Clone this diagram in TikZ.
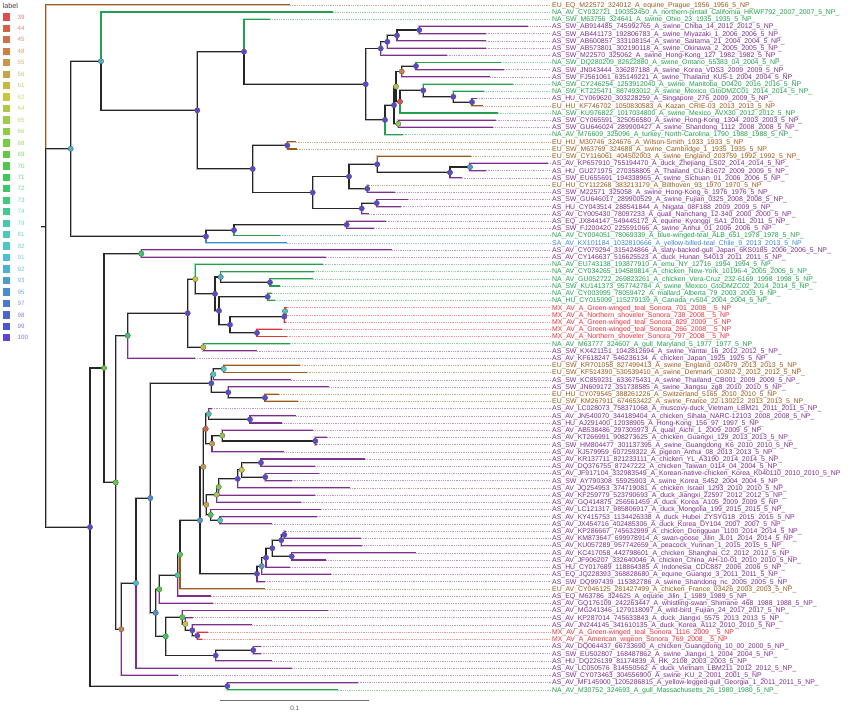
\documentclass[tikz,border=0pt]{standalone}
\usepackage{fontspec}
\setmainfont{Liberation Sans}
\definecolor{cEU}{HTML}{9C5A1A}
\definecolor{cNA}{HTML}{22A04E}
\definecolor{cAS}{HTML}{7E2F8E}
\definecolor{cMX}{HTML}{E5323C}
\definecolor{cSA}{HTML}{3A8AD0}
\definecolor{b39}{HTML}{D95050}
\definecolor{b44}{HTML}{D46048}
\definecolor{b45}{HTML}{D0704A}
\definecolor{b48}{HTML}{CC8048}
\definecolor{b55}{HTML}{C89850}
\definecolor{b56}{HTML}{C8A448}
\definecolor{b61}{HTML}{C8B840}
\definecolor{b62}{HTML}{C8C840}
\definecolor{b64}{HTML}{B0C848}
\definecolor{b65}{HTML}{A0CC48}
\definecolor{b66}{HTML}{8CCC48}
\definecolor{b68}{HTML}{78CC44}
\definecolor{b69}{HTML}{64C844}
\definecolor{b70}{HTML}{50C850}
\definecolor{b71}{HTML}{3CC858}
\definecolor{b72}{HTML}{3CC868}
\definecolor{b73}{HTML}{40C87C}
\definecolor{b74}{HTML}{44C890}
\definecolor{b79}{HTML}{48C8A8}
\definecolor{b81}{HTML}{4CC8BC}
\definecolor{b82}{HTML}{4CC8C8}
\definecolor{b91}{HTML}{4CC0D0}
\definecolor{b92}{HTML}{4CB0D0}
\definecolor{b93}{HTML}{4C9CD0}
\definecolor{b95}{HTML}{4C8CD0}
\definecolor{b97}{HTML}{4C78D0}
\definecolor{b98}{HTML}{4C64D0}
\definecolor{b99}{HTML}{4C54D0}
\definecolor{b100}{HTML}{5A48D0}
\tikzset{
  tipedge/.style={draw=#1, line width=1.1pt, preaction={draw=#1!35, line width=1.9pt}},
  iedge/.style={draw=black!85, line width=1.1pt, preaction={draw=black!30, line width=1.9pt}},
  leader/.style={draw=#1!50, line width=0.45pt, dash pattern=on 0.9pt off 0.9pt},
  lab/.style={anchor=base west, inner sep=0pt, yshift=-2.4pt, text=#1, font=\fontsize{6.9}{8}\selectfont},
  bs/.style={circle, fill=#1, draw=black!65, line width=0.3pt, inner sep=0pt, minimum size=5.4pt},
  legsq/.style={rectangle, fill=#1, draw=none, inner sep=0pt, minimum size=7.3pt},
  legtx/.style={anchor=west, inner sep=0pt, text=#1!75, font=\fontsize{6.2}{7}\selectfont},
}
\newcommand{\tipleaf}[5]{%
  \coordinate (t#1) at (#3,{4.8+(#1-1)*7.21});
  \coordinate (d#1) at (550.5,{4.8+(#1-1)*7.21});
  \draw[tipedge=c#4] (#2) |- (t#1);
  \draw[leader=c#4] (t#1) -- (d#1);
  \node[lab=c#4] (n#1) at (552,{4.8+(#1-1)*7.21}) {\detokenize{#5}};
}
\begin{document}
\begin{tikzpicture}[x=1pt,y=-1pt]
\fill[white] (0,0) rectangle (850,716);
\useasboundingbox (0,0) rectangle (850,716);
% internal node coordinates
\coordinate (root) at (45.7,226.89);
\coordinate (rst) at (40.5,226.89);
\coordinate (nA) at (70.7,148.795);
\coordinate (nA1) at (101,61.17);
\coordinate (nA1b) at (197.3,110.325);
\coordinate (nC) at (244,51.71);
\coordinate (nD) at (365.7,84.195);
\coordinate (nE) at (380.7,48.51);
\coordinate (nE1) at (387.3,41.75);
\coordinate (nE2) at (397,35.44);
\coordinate (nE3) at (419.3,30.035);
\coordinate (nF) at (385,119.88);
\coordinate (nG) at (394,105.18);
\coordinate (nG1) at (396,86.59);
\coordinate (nG1a) at (401.7,71.49);
\coordinate (nGaa) at (416,66.085);
\coordinate (nG1b) at (400,101.685);
\coordinate (nGb1) at (423.3,90.42);
\coordinate (nGb2) at (453.3,96.73);
\coordinate (nGb3) at (472,102.135);
\coordinate (nG2) at (398.3,123.765);
\coordinate (nH) at (252.7,168.94);
\coordinate (nH1) at (287.3,145.395);
\coordinate (nI) at (312.7,192.485);
\coordinate (nI1) at (349,176.49);
\coordinate (nI1a) at (377.3,164.32);
\coordinate (nI1b) at (450,172.43);
\coordinate (nI1c) at (470,167.025);
\coordinate (nI2) at (367.3,188.655);
\coordinate (nI3) at (361.7,208.48);
\coordinate (nI3a) at (376.7,203.075);
\coordinate (nA2) at (206,236.42);
\coordinate (nA2a) at (234,230.11);
\coordinate (nA2b) at (346.7,224.705);
\coordinate (nB) at (90,527.07);
\coordinate (nB2) at (227.3,686.145);
\coordinate (nK) at (104,367.99);
\coordinate (nK1) at (141.3,253.545);
\coordinate (nL) at (115.7,482.43);
\coordinate (nM) at (127.7,335.645);
\coordinate (nN) at (187.7,313.2);
\coordinate (nO) at (195.3,279.12);
\coordinate (nP) at (215,293.875);
\coordinate (nQ) at (220.7,276.98);
\coordinate (nQ1) at (270,282.385);
\coordinate (nR) at (219,310.77);
\coordinate (nR1) at (267.7,296.805);
\coordinate (nS) at (230,324.74);
\coordinate (nS1) at (284.3,316.63);
\coordinate (nS1a) at (285,311.225);
\coordinate (nS2) at (257,332.855);
\coordinate (nN2) at (203.3,347.275);
\coordinate (nT) at (121.3,629.21);
\coordinate (nU) at (136,583.09);
\coordinate (nV) at (150.3,498.065);
\coordinate (nW) at (211.3,383.325);
\coordinate (nW1) at (213.3,374.31);
\coordinate (nW1a) at (223.7,368.905);
\coordinate (nW2) at (228.3,392.34);
\coordinate (nW2a) at (265,397.745);
\coordinate (nX) at (155.7,612.805);
\coordinate (nY) at (159.3,589.26);
\coordinate (nY1) at (177.7,575.29);
\coordinate (nZ) at (180,554.56);
\coordinate (nAA) at (200,520.315);
\coordinate (nAB) at (203.3,466.805);
\coordinate (nAC) at (205.7,428.84);
\coordinate (nAC1) at (208.7,413.97);
\coordinate (nAC1a) at (250,419.375);
\coordinate (nAD) at (212,443.71);
\coordinate (nAD1) at (222.3,435.6);
\coordinate (nAD1a) at (315.3,441.005);
\coordinate (nAE) at (206.3,504.77);
\coordinate (nAF) at (216.7,494.63);
\coordinate (nAF1) at (218.7,486.97);
\coordinate (nAF2) at (237.7,478.86);
\coordinate (nAF3) at (241.7,469.845);
\coordinate (nAF3a) at (261,462.635);
\coordinate (nAF3b) at (265.3,477.055);
\coordinate (nAG) at (210.7,514.91);
\coordinate (nAG1) at (220,520.315);
\coordinate (nAH) at (257,573.825);
\coordinate (nAH1) at (261.7,566.05);
\coordinate (nAH2) at (266,557.715);
\coordinate (nAH3) at (272.3,548.25);
\coordinate (nAH4) at (281.3,540.14);
\coordinate (nAH5) at (284.3,534.735);
\coordinate (nAH6) at (291.7,556.365);
\coordinate (nX2) at (165.7,636.35);
\coordinate (nX2a) at (182.3,617.2);
\coordinate (nX2b) at (185.3,623.96);
\coordinate (nX2c) at (192.3,630.27);
\coordinate (nX2d) at (197.3,635.675);
\coordinate (nX3) at (215.7,655.5);
\coordinate (nX3a) at (253.3,650.095);
% tips
\tipleaf{1}{root}{290}{EU}{EU_EQ_M22572_324012_A_equine_Prague_1956_1956_5_NP_}
\tipleaf{2}{nA1}{333}{NA}{NA_AV_CY032721_190352450_A_northern-pintail_California_HKWF792_2007_2007_5_NP_}
\tipleaf{3}{nC}{270}{NA}{NA_SW_M63756_324641_A_swine_Ohio_23_1935_1935_5_NP_}
\tipleaf{4}{nE3}{528.3}{AS}{AS_SW_AB914485_745992765_A_swine_Chiba_14_2012_2012_5_NP_}
\tipleaf{5}{nE3}{485.7}{AS}{AS_SW_AB441173_192806783_A_swine_Miyazaki_1_2006_2006_5_NP_}
\tipleaf{6}{nE2}{485.7}{AS}{AS_SW_AB600857_333108154_A_swine_Saitama_21_2004_2004_5_NP_}
\tipleaf{7}{nE1}{485.7}{AS}{AS_SW_AB573801_302190118_A_swine_Okinawa_2_2005_2005_5_NP_}
\tipleaf{8}{nE}{446.7}{AS}{AS_SW_M22570_325062_A_swine_Hong-Kong_127_1982_1982_5_NP_}
\tipleaf{9}{nGaa}{501}{NA}{NA_SW_DQ280209_82622880_A_swine_Ontario_55383_04_2004_5_NP_}
\tipleaf{10}{nGaa}{504}{AS}{AS_SW_JN043444_336287188_A_swine_Korea_VDS3_2009_2009_5_NP_}
\tipleaf{11}{nG1a}{490}{AS}{AS_SW_FJ561061_635149221_A_swine_Thailand_KU5-1_2004_2004_5_NP_}
\tipleaf{12}{nGb1}{513.3}{NA}{NA_SW_CY246254_1253912040_A_swine_Manitoba_D0420_2016_2016_5_NP}
\tipleaf{13}{nGb2}{484.3}{NA}{NA_SW_KT225471_887493012_A_swine_Mexico_GtoDMZC01_2014_2014_5_NP_}
\tipleaf{14}{nGb3}{477}{AS}{AS_HU_CY069620_303228259_A_Singapore_276_2009_2009_5_NP_}
\tipleaf{15}{nGb3}{483.3}{EU}{EU_HU_KF746702_1050830583_A_Kazan_CRIE-03_2013_2013_5_NP}
\tipleaf{16}{nG1b}{497.7}{NA}{NA_SW_KU976822_1017034800_A_swine_Mexico_AVX30_2012_2012_5_NP_}
\tipleaf{17}{nG2}{495.7}{AS}{AS_SW_CY065591_325056580_A_swine_Hong-Kong_1304_2003_2003_5_NP_}
\tipleaf{18}{nG2}{493.3}{AS}{AS_SW_GU646024_289900427_A_swine_Shandong_1112_2008_2008_5_NP_}
\tipleaf{19}{nF}{402.7}{NA}{NA_AV_M76609_325096_A_turkey_North-Carolina_1790_1988_1988_5_NP_}
\tipleaf{20}{nH1}{295.7}{EU}{EU_HU_M30746_324676_A_Wilson-Smith_1933_1933_5_NP}
\tipleaf{21}{nH1}{296.7}{EU}{EU_SW_M63769_324688_A_swine_Cambridge_1_1935_1935_5_NP}
\tipleaf{22}{nI1a}{471}{EU}{EU_SW_CY116061_404502003_A_swine_England_203759_1992_1992_5_NP_}
\tipleaf{23}{nI1c}{548}{AS}{AS_AV_KP657910_755194470_A_duck_Zhejiang_LS02_2014_2014_5_NP_}
\tipleaf{24}{nI1c}{485.7}{AS}{AS_HU_GU271975_270358805_A_Thailand_CU-B1672_2009_2009_5_NP_}
\tipleaf{25}{nI1b}{461.7}{AS}{AS_SW_EU655691_194338965_A_swine_Sichuan_01_2006_2006_5_NP_}
\tipleaf{26}{nI2}{369.3}{EU}{EU_HU_CY112268_383213179_A_Bilthoven_93_1970_1970_5_NP}
\tipleaf{27}{nI2}{395}{AS}{AS_SW_M22571_325058_A_swine_Hong-Kong_6_1976_1976_5_NP_}
\tipleaf{28}{nI3a}{408.3}{AS}{AS_SW_GU646017_289900529_A_swine_Fujian_0325_2008_2008_5_NP_}
\tipleaf{29}{nI3a}{400.7}{AS}{AS_HU_CY043514_288541844_A_Niigata_08F188_2009_2009_5_NP_}
\tipleaf{30}{nI3}{369}{AS}{AS_AV_CY005430_78097233_A_quail_Nanchang_12-340_2000_2000_5_NP_}
\tipleaf{31}{nA2b}{385.7}{AS}{AS_EQ_JX844147_549445172_A_equine_Kyonggi_SA1_2011_2011_5_NP_}
\tipleaf{32}{nA2b}{374}{AS}{AS_SW_FJ200420_225591066_A_swine_Anhui_01_2006_2006_5_NP}
\tipleaf{33}{nA2a}{280}{NA}{NA_AV_CY004051_78069339_A_blue-winged-teal_ALB_651_1978_1978_5_NP_}
\tipleaf{34}{nA2}{286.7}{SA}{SA_AV_KX101184_1032810666_A_yellow-billed-teal_Chile_9_2013_2013_5_NP}
\tipleaf{35}{nK1}{392.3}{AS}{AS_AV_CY079294_315424866_A_slaty-backed-gull_Japan_6KS0185_2006_2006_5_NP_}
\tipleaf{36}{nK1}{326}{AS}{AS_AV_CY146637_516625523_A_duck_Hunan_S4013_2011_2011_5_NP_}
\tipleaf{37}{nO}{322.7}{NA}{NA_AV_EU743138_193877910_A_emu_NY_12716_1994_1994_5_NP_}
\tipleaf{38}{nQ}{314.3}{NA}{NA_AV_CY034265_194589814_A_chicken_New-York_10196-4_2005_2005_5_NP_}
\tipleaf{39}{nQ1}{313.3}{NA}{NA_AV_GU052722_269823261_A_chicken_Vera-Cruz_232-6169_1998_1998_5_NP_}
\tipleaf{40}{nQ1}{280}{NA}{NA_SW_KU141373_957742784_A_swine_Mexico_GtoDMZC02_2014_2014_5_NP_}
\tipleaf{41}{nR1}{272.3}{NA}{NA_AV_CY003995_78059472_A_mallard_Alberta_79_2003_2003_5_NP_}
\tipleaf{42}{nR1}{275}{NA}{NA_HU_CY015009_115279139_A_Canada_rv504_2004_2004_5_NP_}
\tipleaf{43}{nS1a}{286.5}{MX}{MX_AV_A_Green-winged_teal_Sonora_701_2008__5_NP}
\tipleaf{44}{nS1a}{286.5}{MX}{MX_AV_A_Northern_shoveler_Sonora_738_2008__5_NP}
\tipleaf{45}{nS1}{286}{MX}{MX_AV_A_Green-winged_teal_Sonora_829_2009__5_NP}
\tipleaf{46}{nS2}{281.7}{MX}{MX_AV_A_Green-winged_teal_Sonora_266_2008__5_NP}
\tipleaf{47}{nS2}{286.7}{MX}{MX_AV_A_Northern_shoveler_Sonora_797_2008__5_NP}
\tipleaf{48}{nN2}{290}{NA}{NA_AV_M63777_324607_A_gull_Maryland_5_1977_1977_5_NP_}
\tipleaf{49}{nN2}{256.7}{AS}{AS_SW_KX421151_1042812694_A_swine_Yantai_16_2012_2012_5_NP_}
\tipleaf{50}{nM}{195}{AS}{AS_AV_KF618247_546236134_A_chicken_Japan_1925_1925_5_NP_}
\tipleaf{51}{nW1a}{300}{EU}{EU_SW_KR701058_827499413_A_swine_England_024079_2013_2013_5_NP_}
\tipleaf{52}{nW1a}{306.7}{EU}{EU_SW_KF514390_530539410_A_swine_Denmark_10302-2_2012_2012_5_NP_}
\tipleaf{53}{nW1}{290.7}{AS}{AS_SW_KC859231_633675431_A_swine_Thailand_CB001_2009_2009_5_NP_}
\tipleaf{54}{nW2}{329.3}{AS}{AS_SW_JN609172_351738585_A_swine_Jiangsu_zg8_2010_2010_5_NP_}
\tipleaf{55}{nW2a}{279}{EU}{EU_HU_CY079545_388261226_A_Switzerland_5165_2010_2010_5_NP_}
\tipleaf{56}{nW2a}{297.7}{EU}{EU_SW_KM267911_674653422_A_swine_France_22-130212_2013_2013_5_NP_}
\tipleaf{57}{nAC1}{212}{AS}{AS_AV_LC028073_758371068_A_muscovy-duck_Vietnam_LBM21_2011_2011_5_NP_}
\tipleaf{58}{nAC1a}{296}{AS}{AS_AV_JN540070_344189404_A_chicken_Sihala_NARC-12103_2008_2008_5_NP_}
\tipleaf{59}{nAC1a}{282.3}{AS}{AS_HU_AJ291400_12038905_A_Hong-Kong_156_97_1997_5_NP_}
\tipleaf{60}{nAD1}{313.3}{AS}{AS_AV_AB538486_297305973_A_quail_Aichi_1_2009_2009_5_NP_}
\tipleaf{61}{nAD1a}{326.7}{AS}{AS_AV_KT266991_908273625_A_chicken_Guangxi_129_2013_2013_5_NP_}
\tipleaf{62}{nAD1a}{316.7}{AS}{AS_SW_HM804477_301137395_A_swine_Guangdong_K6_2010_2010_5_NP_}
\tipleaf{63}{nAD}{284.3}{AS}{AS_AV_KJ579959_607259322_A_pigeon_Anhui_08_2013_2013_5_NP_}
\tipleaf{64}{nAF3a}{365}{AS}{AS_AV_KR137711_821233111_A_chicken_YL_A3190_2014_2014_5_NP_}
\tipleaf{65}{nAF3a}{315.3}{AS}{AS_AV_DQ376755_87247222_A_chicken_Taiwan_0114_04_2004_5_NP_}
\tipleaf{66}{nAF3b}{319.3}{AS}{AS_AV_JF917104_332983549_A_Korean-native-chicken_Korea_K040110_2010_2010_5_NP}
\tipleaf{67}{nAF3b}{291.7}{AS}{AS_SW_AY790308_55925903_A_swine_Korea_S452_2004_2004_5_NP_}
\tipleaf{68}{nAF2}{350}{AS}{AS_AV_JQ254953_374719081_A_chicken_Israel_1293_2010_2010_5_NP_}
\tipleaf{69}{nAF1}{315.3}{AS}{AS_AV_KF259779_523790693_A_duck_Jiangxi_22597_2012_2012_5_NP_}
\tipleaf{70}{nAF}{300.7}{AS}{AS_AV_GQ414875_256561459_A_duck_Korea_A105_2009_2009_5_NP_}
\tipleaf{71}{nAG}{321}{AS}{AS_AV_LC121317_985806917_A_duck_Mongolia_199_2015_2015_5_NP_}
\tipleaf{72}{nAG1}{316.7}{AS}{AS_AV_KY415753_1134426338_A_duck_Hubei_ZYSYG18_2015_2015_5_NP}
\tipleaf{73}{nAG1}{271.7}{AS}{AS_AV_JX454716_402485306_A_duck_Korea_DY104_2007_2007_5_NP_}
\tipleaf{74}{nAH5}{286}{AS}{AS_AV_KP286667_745632999_A_chicken_Dongguan_1100_2014_2014_5_NP_}
\tipleaf{75}{nAH5}{361}{AS}{AS_AV_KM873647_699978914_A_swan-goose_Jilin_JL01_2014_2014_5_NP_}
\tipleaf{76}{nAH4}{362.3}{AS}{AS_AV_KU057289_957742659_A_peacock_Yunnan_1_2015_2015_5_NP_}
\tipleaf{77}{nAH6}{415.7}{AS}{AS_AV_KC417058_442798601_A_chicken_Shanghai_C2_2012_2012_5_NP_}
\tipleaf{78}{nAH6}{326}{AS}{AS_AV_JF906207_332640046_A_chicken_China_AH-10-01_2010_2010_5_NP_}
\tipleaf{79}{nAH2}{290}{AS}{AS_HU_CY017689_118864385_A_Indonesia_CDC887_2006_2006_5_NP_}
\tipleaf{80}{nAH1}{331}{AS}{AS_EQ_JQ228393_368828680_A_equine_Guangxi_3_2011_2011_5_NP_}
\tipleaf{81}{nAH}{265}{AS}{AS_SW_DQ997439_115382786_A_swine_Shandong_nc_2005_2005_5_NP_}
\tipleaf{82}{nZ}{265}{EU}{EU_AV_CY046125_281427499_A_chicken_France_03426_2003_2003_5_NP_}
\tipleaf{83}{nY1}{210.7}{AS}{AS_EQ_M63786_324625_A_equine_Jilin_1_1989_1989_5_NP_}
\tipleaf{84}{nY}{213.3}{AS}{AS_AV_GQ176109_242263447_A_whistling-swan_Shimane_468_1988_1988_5_NP_}
\tipleaf{85}{nX2a}{328.3}{AS}{AS_AV_MG241346_1279118097_A_wild-bird_Fujian_24_2017_2017_5_NP_}
\tipleaf{86}{nX2b}{193.3}{AS}{AS_AV_KP287014_745633843_A_duck_Jiangxi_5575_2013_2013_5_NP_}
\tipleaf{87}{nX2c}{252}{AS}{AS_AV_JN244145_341610135_A_duck_Korea_A112_2010_2010_5_NP_}
\tipleaf{88}{nX2d}{207.7}{MX}{MX_AV_A_Green-winged_teal_Sonora_1116_2009__5_NP}
\tipleaf{89}{nX2d}{201.7}{MX}{MX_AV_A_American_wigeon_Sonora_769_2008__5_NP}
\tipleaf{90}{nX3a}{260.7}{AS}{AS_AV_DQ064437_66733690_A_chicken_Guangdong_10_00_2000_5_NP_}
\tipleaf{91}{nX3a}{260.7}{AS}{AS_SW_EU502807_168487862_A_swine_Jiangxi_1_2004_2004_5_NP_}
\tipleaf{92}{nX3}{272.3}{AS}{AS_HU_DQ226139_81174839_A_HK_2108_2003_2003_5_NP_}
\tipleaf{93}{nU}{292.3}{AS}{AS_AV_LC050576_814550562_A_duck_Vietnam_LBM211_2012_2012_5_NP_}
\tipleaf{94}{nT}{177.7}{AS}{AS_SW_CY073463_304556900_A_swine_KU_2_2001_2001_5_NP_}
\tipleaf{95}{nB2}{357.7}{AS}{AS_AV_MF145900_1205286815_A_yellow-legged-gull_Georgia_1_2011_2011_5_NP_}
\tipleaf{96}{nB2}{337.7}{NA}{NA_AV_M30752_324693_A_gull_Massachusetts_26_1980_1980_5_NP_}
% internal edges
\draw[iedge] (rst) -- (root);
\foreach \p/\c in {root/nA, root/nB, nA/nA1, nA/nA2, nA1/nA1b, nA1b/nC, nA1b/nH, nC/nD, nD/nE, nD/nF,
  nE/nE1, nE1/nE2, nE2/nE3, nF/nG, nG/nG1, nG/nG2, nG1/nG1a, nG1/nG1b, nG1a/nGaa, nG1b/nGb1, nGb1/nGb2, nGb2/nGb3,
  nH/nH1, nH/nI, nI/nI1, nI/nI3, nI1/nI1a, nI1/nI2, nI1a/nI1b, nI1b/nI1c, nI3/nI3a, nA2/nA2a, nA2a/nA2b,
  nB/nK, nB/nB2, nK/nK1, nK/nL, nL/nM, nL/nT, nM/nN, nN/nO, nN/nN2, nO/nP, nP/nQ, nP/nR, nQ/nQ1, nR/nR1, nR/nS,
  nS/nS1, nS/nS2, nS1/nS1a, nT/nU, nU/nV, nV/nW, nV/nX, nW/nW1, nW/nW2, nW1/nW1a, nW2/nW2a, nX/nY, nX/nX2,
  nY/nY1, nY1/nZ, nZ/nAA, nAA/nAB, nAA/nAH, nAB/nAC, nAB/nAE, nAC/nAC1, nAC/nAD, nAC1/nAC1a, nAD/nAD1, nAD1/nAD1a,
  nAE/nAF, nAE/nAG, nAF/nAF1, nAF1/nAF2, nAF2/nAF3, nAF3/nAF3a, nAF3/nAF3b, nAG/nAG1, nAH/nAH1, nAH1/nAH2,
  nAH2/nAH3, nAH3/nAH4, nAH3/nAH6, nAH4/nAH5, nX2/nX2a, nX2/nX3, nX2a/nX2b, nX2b/nX2c, nX2c/nX2d, nX3/nX3a}
  {\draw[iedge] (\p) |- (\c);}
% bootstrap circles
\foreach \c/\b in {nA/92, nA1/92, nA1b/100, nC/100, nD/100, nE/100, nE1/100, nE2/100, nE3/100, nF/100, nG/100,
  nG1/65, nG1a/48, nGaa/100, nG1b/39, nGb1/100, nGb2/100, nGb3/100, nG2/66, nH/100, nH1/100, nI/100, nI1/100,
  nI1a/100, nI1b/100, nI1c/93, nI2/100, nI3/100, nI3a/100, nA2/100, nA2a/100, nA2b/100, nB/100, nB2/100,
  nK/69, nK1/72, nL/69, nM/72, nN/100, nO/62, nP/100, nQ/92, nQ1/100, nR/100, nR1/100, nS/100, nS1/100,
  nS1a/81, nS2/100, nN2/61, nT/48, nU/91, nV/95, nW/99, nW1/82, nW1a/81, nW2/100, nW2a/100, nX/95, nY/70,
  nY1/74, nZ/70, nAA/93, nAB/55, nAC/44, nAC1/79, nAC1a/100, nAD/55, nAD1/66, nAD1a/100, nAE/56, nAF/65,
  nAF1/68, nAF2/100, nAF3/62, nAF3a/100, nAF3b/100, nAG/70, nAG1/81, nAH/100, nAH1/93, nAH2/100, nAH3/100,
  nAH4/100, nAH5/100, nAH6/100, nX2/71, nX2a/70, nX2b/62, nX2c/100, nX2d/100, nX3/100, nX3a/100}
  {\node[bs=b\b] (c\c) at (\c) {};}
% legend
\node[anchor=west, inner sep=0pt, text=black!75, font=\fontsize{7.2}{8}\selectfont] (legt) at (2.5,5.6) {label};
\foreach \v [count=\k from 0] in {39,44,45,48,55,56,61,62,64,65,66,68,69,70,71,72,73,74,79,81,82,91,92,93,95,97,98,99,100}
  {\node[legsq=b\v] (ls\v) at (6.4,{16.9+11.46*\k}) {};
   \node[legtx=b\v] (lt\v) at (17.5,{16.9+11.46*\k}) {\v};}
% scale bar
\coordinate (sb1) at (220,700.3);
\coordinate (sb2) at (369.3,700.3);
\draw[black!55, line width=0.8pt] (sb1) -- (sb2);
\node[inner sep=0pt, text=black!65, font=\fontsize{6.4}{7}\selectfont] (sbl) at (294.7,708.6) {0.1};
\end{tikzpicture}
\end{document}
